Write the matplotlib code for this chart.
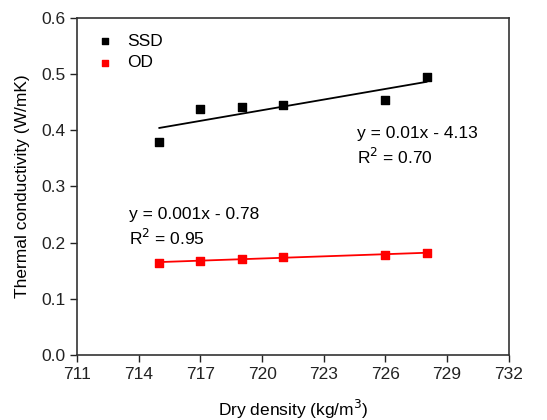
import numpy as np
import matplotlib
matplotlib.use("Agg")
import matplotlib.pyplot as plt

plt.rcParams['font.family'] = ['Liberation Sans', 'DejaVu Sans']

# dry density (kg/m3)
density = [715, 717, 719, 721, 726, 728]
# thermal conductivity (W/mK)
ssd = [0.380, 0.438, 0.441, 0.445, 0.454, 0.495]
od = [0.164, 0.168, 0.171, 0.175, 0.178, 0.182]

fig = plt.figure(figsize=(5.47, 4.2), dpi=100)
ax = fig.add_axes([0.141, 0.155, 0.789, 0.802])

# linear fits
x = np.array(density)
p_ssd = np.polyfit(x, ssd, 1)
p_od = np.polyfit(x, od, 1)
xf = np.array([min(density), max(density)])
ax.plot(xf, np.polyval(p_ssd, xf), color='black', lw=1.3)
ax.plot(xf, np.polyval(p_od, xf), color='red', lw=1.3)

ax.scatter(density, ssd, marker='s', s=30, color='black', label='SSD', zorder=3)
ax.scatter(density, od, marker='s', s=30, color='red', label='OD', zorder=3)

ax.text(724.6, 0.386, 'y = 0.01x - 4.13', fontsize=12.5)
ax.text(724.6, 0.340, 'R$^2$ = 0.70', fontsize=12.5)
ax.text(713.5, 0.242, 'y = 0.001x - 0.78', fontsize=12.5)
ax.text(713.5, 0.196, 'R$^2$ = 0.95', fontsize=12.5)

ax.set_xlim(711, 732)
ax.set_ylim(0, 0.6)
ax.set_xticks([711, 714, 717, 720, 723, 726, 729, 732])
ax.set_yticks([0.0, 0.1, 0.2, 0.3, 0.4, 0.5, 0.6])
ax.set_yticklabels(['0.0', '0.1', '0.2', '0.3', '0.4', '0.5', '0.6'])
ax.tick_params(direction='out', length=5, width=1, labelsize=12.5, colors='#222222')
for s in ax.spines.values():
    s.set_color('#333333')
    s.set_linewidth(1.2)

ax.set_xlabel('Dry density (kg/m$^3$)', fontsize=12.5, labelpad=12)
ax.set_ylabel('Thermal conductivity (W/mK)', fontsize=12.5, labelpad=8)

ax.legend(loc='upper left', bbox_to_anchor=(0.0, 1.0), frameon=False, fontsize=12.5,
          handletextpad=0.6, handlelength=1.4, labelspacing=0.35,
          scatterpoints=1, markerscale=0.8)

fig.savefig('out.png', dpi=100)
